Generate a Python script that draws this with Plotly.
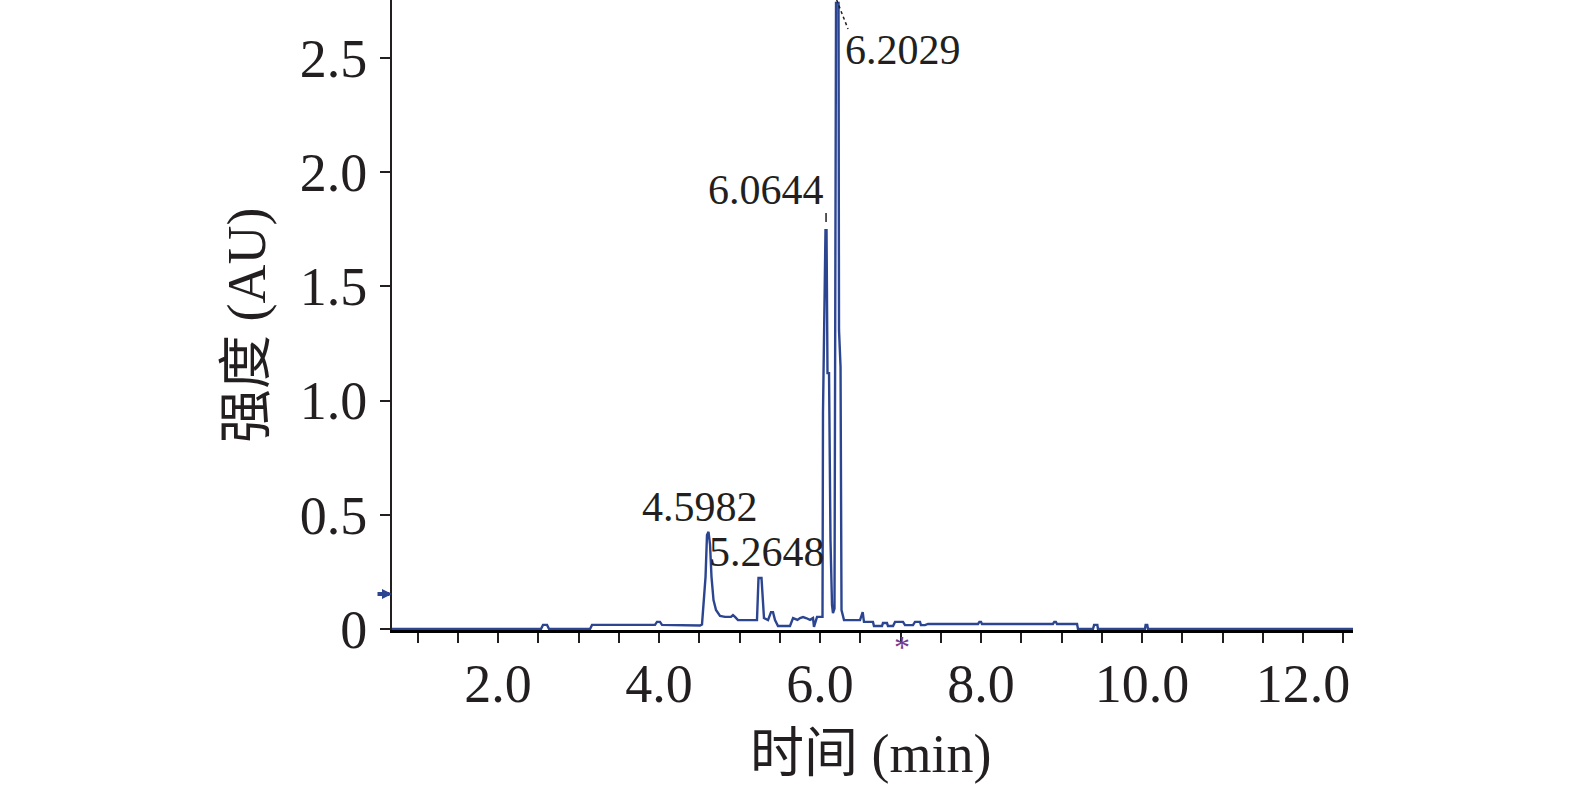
import plotly.graph_objects as go

# chromatogram trace (time in min, intensity in AU)
time_min = [
    0.683, 2.534, 2.559, 2.609, 2.634, 3.143, 3.168, 3.230, 3.950, 3.975,
    4.012, 4.037, 4.509, 4.534, 4.559, 4.578, 4.596, 4.615, 4.634, 4.652,
    4.677, 4.708, 4.758, 4.820, 4.894, 4.919, 4.944, 4.981, 5.217, 5.236,
    5.273, 5.286, 5.304, 5.354, 5.391, 5.416, 5.441, 5.478, 5.627, 5.665,
    5.720, 5.752, 5.789, 5.826, 5.876, 5.913, 5.925, 5.963, 6.031, 6.037,
    6.068, 6.081, 6.093, 6.112, 6.130, 6.149, 6.161, 6.180, 6.199, 6.230,
    6.236, 6.255, 6.267, 6.298, 6.323, 6.497, 6.530, 6.546, 6.658, 6.670,
    6.770, 6.782, 6.832, 6.844, 6.907, 6.932, 7.031, 7.056, 7.155, 7.180,
    7.242, 7.254, 7.304, 7.342, 7.963, 7.980, 8.000, 8.012, 8.894, 8.910,
    8.930, 8.944, 9.193, 9.205, 9.391, 9.405, 9.445, 9.453, 10.037, 10.045,
    10.065, 10.075, 12.621,
]
intensity_au = [
    0.000, 0.000, 0.018, 0.018, 0.000, 0.000, 0.018, 0.018, 0.018, 0.031,
    0.031, 0.018, 0.015, 0.020, 0.127, 0.228, 0.411, 0.425, 0.368, 0.228,
    0.127, 0.083, 0.057, 0.053, 0.053, 0.061, 0.053, 0.039, 0.039, 0.223,
    0.223, 0.127, 0.048, 0.039, 0.074, 0.074, 0.039, 0.013, 0.013, 0.048,
    0.040, 0.048, 0.052, 0.048, 0.040, 0.048, 0.009, 0.053, 0.053, 0.950,
    1.746, 1.746, 1.120, 1.120, 0.389, 0.105, 0.070, 0.090, 2.740, 2.740,
    1.309, 1.147, 0.083, 0.039, 0.039, 0.039, 0.074, 0.031, 0.031, 0.013,
    0.013, 0.026, 0.026, 0.013, 0.013, 0.031, 0.031, 0.017, 0.017, 0.031,
    0.031, 0.017, 0.017, 0.022, 0.022, 0.031, 0.031, 0.022, 0.022, 0.031,
    0.031, 0.022, 0.022, 0.000, 0.000, 0.018, 0.018, 0.000, 0.000, 0.018,
    0.018, 0.000, 0.000,
]

peak_times = ["4.5982", "5.2648", "6.0644", "6.2029"]
label_x = [4.509, 4.596, 6.075, 6.286]
label_y = [0.534, 0.337, 1.921, 2.534]
label_anchor = ["center", "left", "right", "left"]

x_tickvals = [2, 4, 6, 8, 10, 12]
x_ticktext = ["2.0", "4.0", "6.0", "8.0", "10.0", "12.0"]
y_tickvals = [0, 0.5, 1.0, 1.5, 2.0, 2.5]
y_ticktext = ["0", "0.5", "1.0", "1.5", "2.0", "2.5"]

SERIF = "Liberation Serif, Noto Sans CJK SC, serif"
BLUE = "#2c4591"
INK = "#231f20"

W, H = 1575, 785
ML, MR, MT, MB = 392, 222, 0, 155
PW, PH = W - ML - MR, H - MT - MB


def px_x(px):
    return (px - ML) / PW


def px_y(py):
    return (H - MB - py) / PH


fig = go.Figure()
fig.add_trace(go.Scatter(x=time_min, y=intensity_au, mode="lines",
                         line=dict(color=BLUE, width=2.4), hoverinfo="skip"))

for txt, x, y, anc in zip(peak_times, label_x, label_y, label_anchor):
    fig.add_annotation(x=x, y=y, text=txt, showarrow=False, xanchor=anc, yanchor="middle",
                       font=dict(family=SERIF, size=42, color=INK))

# leader marks next to the two big peaks
fig.add_shape(type="line", x0=6.207, y0=2.753, x1=6.348, y1=2.626,
              line=dict(color=INK, width=1.5, dash="dot"))
fig.add_shape(type="line", x0=6.075, y0=1.821, x1=6.075, y1=1.764,
              line=dict(color=INK, width=1.5, dash="dash"))

# small arrow on the y axis and the star under the time axis
fig.add_annotation(x=0, xref="paper", y=0.153, ax=-16, ay=0, text="", showarrow=True,
                   arrowhead=2, arrowsize=0.5, arrowwidth=4, arrowcolor=BLUE)
fig.add_annotation(x=7.02, y=px_y(647), yref="paper", text="*", showarrow=False,
                   xanchor="center", yanchor="middle",
                   font=dict(family=SERIF, size=32, color="#7b3b8c"))

# axis titles
fig.add_annotation(x=px_x(870), y=px_y(754), xref="paper", yref="paper", text="时间 (min)",
                   showarrow=False, xanchor="center", yanchor="middle",
                   font=dict(family=SERIF, size=54, color=INK))
fig.add_annotation(x=px_x(247), y=px_y(326), xref="paper", yref="paper", text="强度 (AU)",
                   textangle=-90, showarrow=False, xanchor="center", yanchor="middle",
                   font=dict(family=SERIF, size=54, color=INK))

fig.update_xaxes(range=[0.683, 12.621], tickvals=x_tickvals, ticktext=x_ticktext,
                 ticks="outside", ticklen=10, tickwidth=2, tickcolor=INK,
                 minor=dict(dtick=0.5, tick0=0, ticks="outside", ticklen=10, tickwidth=2, tickcolor=INK),
                 showline=True, linewidth=3, linecolor="black", showgrid=False, zeroline=False,
                 ticklabelstandoff=-6,
                 tickfont=dict(family=SERIF, size=54, color=INK), layer="below traces")
fig.update_yaxes(range=[-0.0044, 2.753], tickvals=y_tickvals, ticktext=y_ticktext,
                 ticks="outside", ticklen=10, tickwidth=2, tickcolor=INK,
                 showline=True, linewidth=2, linecolor=INK, showgrid=False, zeroline=False,
                 ticklabelstandoff=2,
                 tickfont=dict(family=SERIF, size=54, color=INK), layer="below traces")

fig.update_layout(width=W, height=H, showlegend=False,
                  margin=dict(l=ML, r=MR, t=MT, b=MB, autoexpand=False),
                  plot_bgcolor="white", paper_bgcolor="white")

fig.write_html("out.html", config={"displayModeBar": False},
               post_script="document.body.style.margin='0';")
